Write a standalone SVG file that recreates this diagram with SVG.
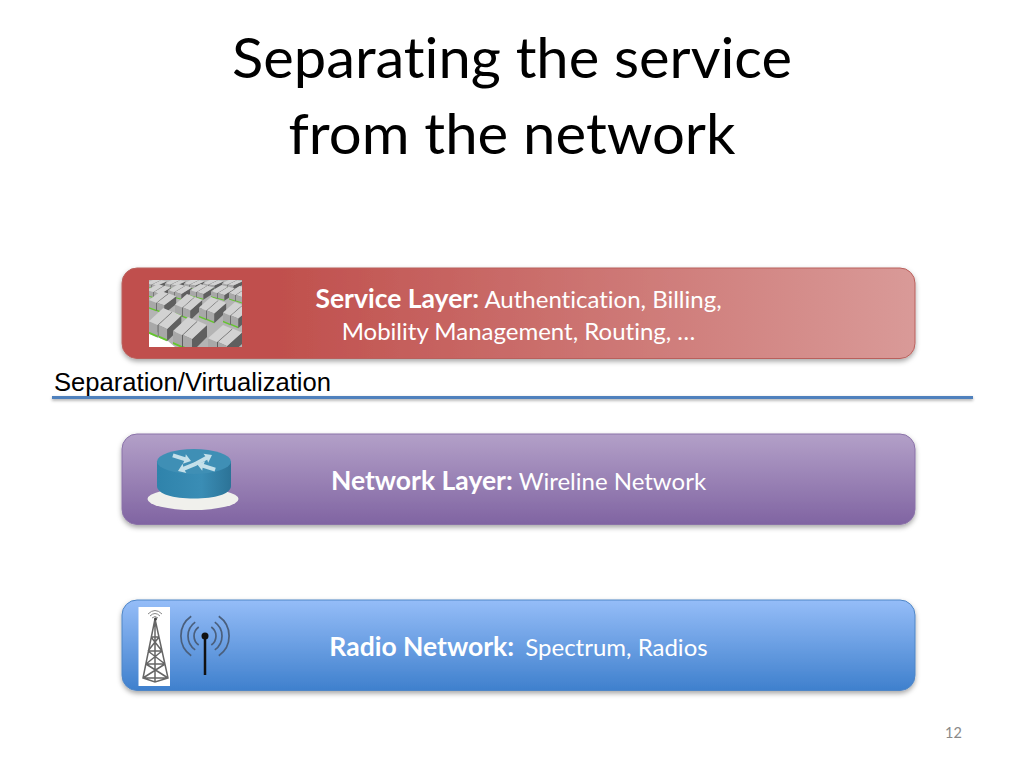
<svg xmlns="http://www.w3.org/2000/svg" xmlns:xlink="http://www.w3.org/1999/xlink" width="1024" height="768" viewBox="0 0 1024 768">
<style>
text{font-family:"Lato","Open Sans","Liberation Sans",sans-serif;font-variant-ligatures:none}
.title{font-size:56px;fill:#000;text-anchor:middle}
.lab{font-size:24px;fill:#fff;text-anchor:middle}
.b{font-weight:700;font-size:26.500px}
.box{stroke-width:1}
.wave{fill:none;stroke:#4a5f7c;stroke-width:1.7}
.tw{fill:none;stroke:#666;stroke-width:1.5}
</style>
<defs>
<linearGradient id="gS" x1="0" x2="1" y1="0" y2="0"><stop offset="0.2" stop-color="#c0504d"/><stop offset="1" stop-color="#d99a98"/></linearGradient>
<linearGradient id="gN" x1="0" x2="0" y1="0" y2="1"><stop offset="0" stop-color="#b3a0c8"/><stop offset="1" stop-color="#8064a2"/></linearGradient>
<linearGradient id="gR" x1="0" x2="0" y1="0" y2="1"><stop offset="0" stop-color="#95bdf8"/><stop offset="1" stop-color="#3f80cd"/></linearGradient>
<linearGradient id="gCyl" x1="0" x2="1" y1="0" y2="0"><stop offset="0" stop-color="#2f83ab"/><stop offset="0.6" stop-color="#3a8db5"/><stop offset="1" stop-color="#2c7397"/></linearGradient>
<filter id="sh" x="-5%" y="-20%" width="110%" height="150%"><feDropShadow dx="0" dy="2.500" stdDeviation="2.500" flood-color="#000" flood-opacity="0.35"/></filter>
<filter id="ln" x="-2%" y="-200%" width="104%" height="500%"><feDropShadow dx="0" dy="1.500" stdDeviation="1.500" flood-color="#000" flood-opacity="0.35"/></filter>
<clipPath id="cImg"><rect x="149" y="280" width="93" height="67"/></clipPath>
<g id="rack">
<path d="M0 14 9 18 9 31 0 27Z" fill="#a8a8a8"/>
<path d="M0 25 9 29 9 31 0 27Z" fill="#63c72c"/>
<path d="M9 18 24 4 24 16 9 31Z" fill="#5f5f5f"/>
<path d="M0 14 15 0 24 4 9 18Z" fill="#d2d2d2"/>
</g>
<g id="pair"><use xlink:href="#rack"/><use xlink:href="#rack" x="10" y="4"/></g>
<path id="arr" d="M0 0 7 -5 6.500 -2 19 -2 19 2 6.500 2 7 5Z" fill="#c4e0ea"/>
</defs>

<g id="title">
<text class="title" x="512" y="78" textLength="560" lengthAdjust="spacingAndGlyphs">Separating the service</text>
<text class="title" x="512" y="154" textLength="447" lengthAdjust="spacingAndGlyphs">from the network</text>
</g>

<g id="service-layer">
<rect class="box" x="122" y="268" width="793" height="90.500" rx="15" fill="url(#gS)" stroke="#b9605c" filter="url(#sh)"/>
<g id="server-farm" clip-path="url(#cImg)">
<rect x="149" y="280" width="93" height="67" fill="#b4b4b4"/>
<path d="M149 325V347H175Z" fill="#fff"/>
<use xlink:href="#pair" transform="translate(146 279) scale(.6 .3)"/><use xlink:href="#pair" transform="translate(165 279) scale(.6 .3)"/><use xlink:href="#pair" transform="translate(184 279) scale(.6 .3)"/><use xlink:href="#pair" transform="translate(203 279) scale(.6 .3)"/><use xlink:href="#pair" transform="translate(222 279) scale(.6 .3)"/>
<use xlink:href="#pair" transform="translate(147 284) scale(.7 .45)"/><use xlink:href="#pair" transform="translate(168 284) scale(.7 .45)"/><use xlink:href="#pair" transform="translate(190 284) scale(.7 .45)"/><use xlink:href="#pair" transform="translate(211 285) scale(.7 .45)"/><use xlink:href="#pair" transform="translate(229 286) scale(.7 .5)"/>
<use xlink:href="#pair" transform="translate(149 291) scale(.8 .65)"/><use xlink:href="#pair" transform="translate(175 294) scale(.8 .75)"/><use xlink:href="#pair" transform="translate(199 297) scale(.8 .75)"/><use xlink:href="#pair" transform="translate(223 302) scale(.8 .75)"/>
<use xlink:href="#pair" transform="translate(149 308) scale(.95 .95)"/>
<use xlink:href="#pair" transform="translate(173 317) scale(1 1)"/>
<use xlink:href="#pair" transform="translate(208 325) scale(1 .95)"/>
</g>
<text class="lab" x="518.500" y="307.500"><tspan class="b">Service Layer:</tspan> Authentication, Billing,</text>
<text class="lab" x="518.500" y="339.500">Mobility Management, Routing, …</text>
</g>

<g id="separation">
<text x="54" y="391" style="font-family:'Liberation Sans',Arial,sans-serif;font-size:25.600px" fill="#000">Separation/Virtualization</text>
</g>

<g id="connectors">
<rect x="52" y="396" width="921" height="3" fill="#4f81bd" filter="url(#ln)"/>
</g>

<g id="network-layer">
<rect class="box" x="122" y="434" width="793" height="90.500" rx="15" fill="url(#gN)" stroke="#8a72a8" filter="url(#sh)"/>
<g id="router">
<ellipse cx="193" cy="499" rx="45.500" ry="11" fill="#f0f0ec"/>
<path d="M157 461V486C157 494 173 498.500 194 498.500S231 494 231 486V461Z" fill="url(#gCyl)"/>
<ellipse cx="194" cy="461.500" rx="37" ry="12.500" fill="#3f8fb5"/>
<use xlink:href="#arr" transform="translate(191 461) rotate(197.500)"/>
<use xlink:href="#arr" transform="translate(212 455) rotate(152)"/>
<use xlink:href="#arr" transform="translate(178 471) rotate(-22)"/>
<use xlink:href="#arr" transform="translate(197 464) rotate(17)"/>
</g>
<text class="lab" x="518.500" y="489.500"><tspan class="b">Network Layer:</tspan> Wireline Network</text>
</g>

<g id="radio-network">
<rect class="box" x="122" y="600" width="793" height="90.500" rx="15" fill="url(#gR)" stroke="#4f86c6" filter="url(#sh)"/>
<g id="tower">
<rect x="138.500" y="607" width="31.500" height="79" fill="#fff"/>
<path class="tw" d="M155 619 143 678 155 682 168 678 155 619M155 619V682M151 637H159M148 651H162M146 664H165M143 678H168M151 637 162 651M159 637 148 651M148 651 165 664M162 651 146 664M146 664 168 678M165 664 143 678"/>
<path d="M148 614Q155 607 162 614M150 616Q155 611 160 616M152 618Q155 615 158 618" fill="none" stroke="#888" stroke-width="1"/>
<circle cx="155.500" cy="619" r="1.500" fill="#444"/>
</g>
<g id="antenna">
<line x1="205" y1="636" x2="205" y2="675" stroke="#111" stroke-width="2.500"/>
<circle cx="205" cy="636" r="3.500" fill="#111"/>
<path class="wave" d="M198.700 627A11 11 0 0 0 198.700 645M195.200 622.100A17 17 0 0 0 195.200 649.900M191.200 616.300A24 24 0 0 0 191.200 655.700"/>
<path class="wave" d="M211.300 627A11 11 0 0 1 211.300 645M214.800 622.100A17 17 0 0 1 214.800 649.900M218.800 616.300A24 24 0 0 1 218.800 655.700"/>
</g>
<text class="lab" x="518.500" y="655.500"><tspan class="b">Radio Network:</tspan> <tspan dx="5">Spectrum, Radios</tspan></text>
</g>

<g id="page-number"><text x="945" y="738" style="font-size:14.500px" fill="#898989">12</text></g>
</svg>
